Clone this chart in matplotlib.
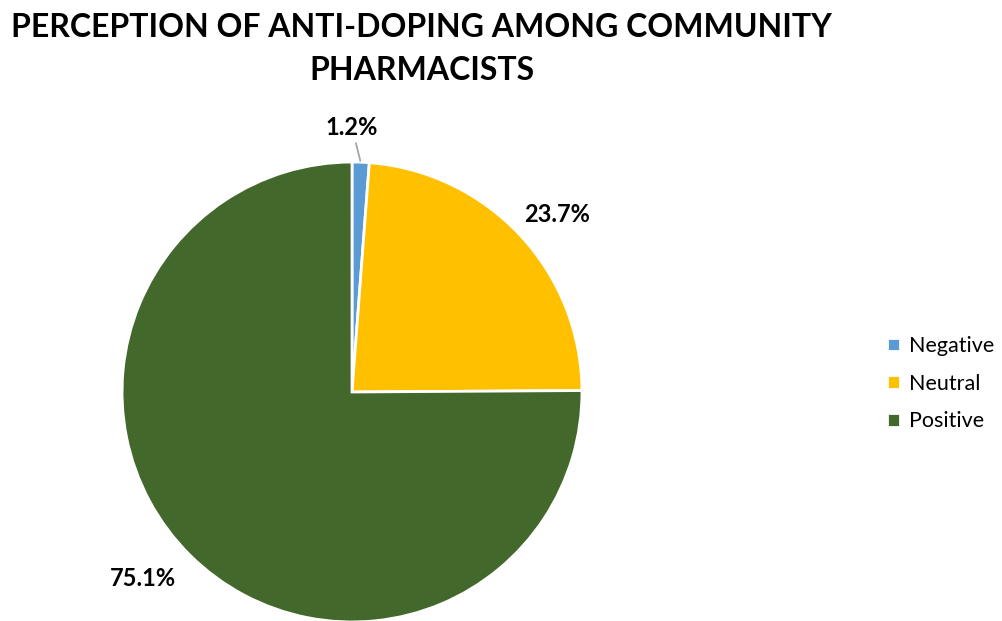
import numpy as np
import matplotlib.pyplot as plt

categories = ['Negative', 'Neutral', 'Positive']
shares = [1.2, 23.7, 75.1]
colors = ['#5B9BD5', '#FFC000', '#43682B']

plt.rcParams['font.family'] = ['Lato', 'DejaVu Sans']

fig = plt.figure(figsize=(10.02, 6.21), dpi=100)
ax = fig.add_axes([0.1218, -0.0016, 0.459, 0.7407])

wedges, _ = ax.pie(shares, colors=colors, startangle=90, counterclock=False,
                   radius=1, wedgeprops=dict(edgecolor='white', linewidth=2))
ax.set_xlim(-1, 1)
ax.set_ylim(-1, 1)
ax.axis('off')

# подписи процентов: радиус и небольшой сдвиг угла для каждой
label_r = [1.15, 1.18, 1.22]
label_shift = [0, -2.2, -3.5]
for i, (w, s) in enumerate(zip(wedges, shares)):
    mid = np.deg2rad((w.theta1 + w.theta2) / 2)
    txt = f'{s:.1f}%'
    if i == 0:
        ax.annotate(txt, xy=(1.0 * np.cos(mid), 1.0 * np.sin(mid)),
                    xytext=(0, label_r[i]), ha='center', va='center',
                    fontsize=17, fontweight='bold', annotation_clip=False,
                    arrowprops=dict(arrowstyle='-', color='#A6A6A6', lw=1.3,
                                    shrinkA=1, shrinkB=1))
    else:
        a = mid + np.deg2rad(label_shift[i])
        ax.text(label_r[i] * np.cos(a), label_r[i] * np.sin(a), txt,
                ha='center', va='center', fontsize=17, fontweight='bold',
                clip_on=False)

fig.text(0.421, 0.921, 'PERCEPTION OF ANTI-DOPING AMONG COMMUNITY\nPHARMACISTS',
         ha='center', va='center', fontsize=23, fontweight='bold', linespacing=1.6)

fig.legend(wedges, categories, loc='center left', bbox_to_anchor=(0.866, 0.382),
           frameon=False, fontsize=15.5, handlelength=0.6, handleheight=0.6,
           handletextpad=0.4, labelspacing=0.82)

plt.savefig('out.png', dpi=100)
